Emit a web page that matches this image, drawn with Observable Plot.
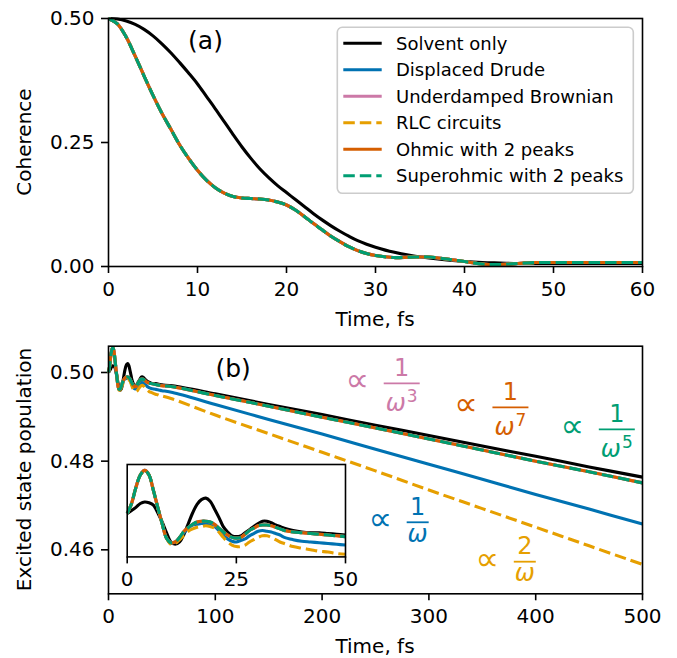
<!DOCTYPE html>
<html><head><meta charset="utf-8">
<script src="https://cdn.jsdelivr.net/npm/d3@7"></script>
<script src="https://cdn.jsdelivr.net/npm/@observablehq/plot@0.6"></script>
<style>
body{margin:0;background:white;}
#wrap{position:relative;width:677px;height:658px;font-family:"DejaVu Sans";background:white;}
#wrap svg{position:absolute;overflow:visible;}
</style>
</head><body><div id="wrap"></div>
<script>
// ---------- series ----------
const seriesNames  = ["Solvent only","Displaced Drude","Underdamped Brownian","RLC circuits","Ohmic with 2 peaks","Superohmic with 2 peaks"];
const seriesColors = ["#000000","#0072B2","#CC79A7","#E69F00","#D55E00","#009E73"];
const seriesDashed = [false,false,false,true,false,true];

// ---------- panel (a): coherence ----------
const tA = [0,1,2,3,4,5,6,7,8,9,10,11,12,13,14,15,16,17,18,19,20,21,22,23,24,25,26,27,28,29,30,32,34,36,38,40,42,44,46,48,50,52,56,60];
const cohSolvent = [0.500,0.499,0.495,0.488,0.478,0.465,0.449,0.431,0.411,0.390,0.368,0.343,0.318,0.292,0.266,0.241,0.218,0.197,0.179,0.163,0.149,0.135,0.121,0.107,0.094,0.082,0.071,0.061,0.052,0.045,0.039,0.029,0.022,0.017,0.013,0.010,0.008,0.007,0.006,0.006,0.006,0.006,0.006,0.006];
const cohBath    = [0.500,0.489,0.462,0.424,0.384,0.345,0.309,0.277,0.245,0.218,0.194,0.174,0.159,0.148,0.141,0.138,0.137,0.136,0.134,0.130,0.124,0.114,0.101,0.087,0.074,0.061,0.050,0.040,0.032,0.026,0.022,0.018,0.019,0.019,0.015,0.010,0.005,0.004,0.006,0.008,0.008,0.008,0.008,0.008];
const xTicksA = [0,10,20,30,40,50,60];
const yTicksA = [0,0.25,0.5];

// ---------- panel (b): excited state population ----------
const tB = [0,1,2,3,4,5,6,7,8,9,10,11,12,13,14,15,16,17,18,19,20,21,22,23,24,25,26,27,28,29,30,31,32,33,34,35,36,38,40,42,44,46,48,50,60,100,150,200,250,300,350,400,450,500];
const popSolvent = [0.5000,0.5004,0.5008,0.5013,0.5015,0.5014,0.5011,0.5001,0.4989,0.4975,0.4963,0.4960,0.4963,0.4973,0.4987,0.5001,0.5012,0.5018,0.5020,0.5016,0.5006,0.4995,0.4983,0.4976,0.4971,0.4970,0.4971,0.4975,0.4979,0.4983,0.4987,0.4990,0.4990,0.4988,0.4985,0.4983,0.4981,0.4978,0.4976,0.4975,0.4975,0.4974,0.4973,0.4972,0.4970,0.4952,0.4928,0.4905,0.4881,0.4858,0.4834,0.4811,0.4787,0.4764];
const popOthers  = [0.5000,0.5013,0.5034,0.5050,0.5056,0.5050,0.5030,0.5008,0.4987,0.4968,0.4962,0.4963,0.4969,0.4977,0.4982,0.4986,0.4989,0.4990,0.4990,0.4989,0.4986,0.4981,0.4976,0.4972,0.4969,0.4968,0.4969,0.4973,0.4978,0.4981,0.4984,0.4985,0.4985,0.4984,0.4982,0.4980,0.4978,0.4976,0.4975,0.4974,0.4973,0.4972,0.4971,0.4970,0.4968,0.4948,0.4924,0.4899,0.4875,0.4850,0.4825,0.4800,0.4776,0.4751];
const popDrude   = [0.5000,0.5013,0.5034,0.5050,0.5056,0.5050,0.5030,0.5008,0.4987,0.4968,0.4962,0.4963,0.4968,0.4975,0.4981,0.4985,0.4986,0.4987,0.4987,0.4986,0.4983,0.4978,0.4972,0.4967,0.4964,0.4963,0.4965,0.4967,0.4971,0.4974,0.4977,0.4978,0.4977,0.4976,0.4974,0.4972,0.4969,0.4966,0.4964,0.4963,0.4962,0.4961,0.4960,0.4959,0.4955,0.4928,0.4894,0.4861,0.4827,0.4793,0.4759,0.4725,0.4692,0.4658];
const popRLC     = [0.5000,0.5013,0.5034,0.5050,0.5056,0.5050,0.5030,0.5008,0.4987,0.4968,0.4960,0.4961,0.4966,0.4972,0.4977,0.4980,0.4982,0.4983,0.4984,0.4983,0.4981,0.4976,0.4969,0.4963,0.4959,0.4957,0.4957,0.4959,0.4963,0.4966,0.4969,0.4971,0.4971,0.4969,0.4966,0.4963,0.4961,0.4957,0.4955,0.4953,0.4951,0.4950,0.4948,0.4947,0.4940,0.4904,0.4862,0.4820,0.4778,0.4735,0.4693,0.4651,0.4609,0.4567];
const xTicksB = [0,100,200,300,400,500];
const yTicksB = [0.46,0.48,0.50];
const xTicksInset = [0,25,50];

// ---------- annotations ----------
const panelLabels = [{panel:"a", t:10.9, v:0.4556, text:"(a)"},{panel:"b", t:116.7, v:0.5007, text:"(b)"}];
const eqLabels = [
  {t:229.6, v:0.49745, color:"#CC79A7", num:"1", exp:"3"},
  {t:331.4, v:0.49204, color:"#D55E00", num:"1", exp:"7"},
  {t:431.0, v:0.48707, color:"#009E73", num:"1", exp:"5"},
  {t:251.1, v:0.46610, color:"#0072B2", num:"1", exp:""},
  {t:351.4, v:0.45721, color:"#E69F00", num:"2", exp:""}
];

// ---------- helpers ----------
const LW = 3.1, DASH = "11.5,5", FONT = "DejaVu Sans";
const baseStyle = {fontFamily: FONT, fontSize: "20px", color: "black", background: "transparent", overflow: "visible"};
function rows(ts, vs){ return ts.map((t,i)=>({t, v: vs[i]})); }
function lineMarks(dataArr, filter){
  return dataArr.map((vals, i) => Plot.line(rows(filter.t, vals).filter(filter.f), {
    x:"t", y:"v", stroke: seriesColors[i], strokeWidth: LW,
    strokeDasharray: seriesDashed[i] ? DASH : null, curve: "catmull-rom",
    strokeLinejoin: "round", strokeLinecap: "butt"
  }));
}
function addText(svg, x, y, txt, o={}){
  const t = d3.select(svg).append("text").attr("x", x).attr("y", y).text(txt)
    .attr("font-family", FONT).attr("font-size", o.size || 20)
    .attr("text-anchor", o.anchor || "middle").attr("dy", o.dy || "0.35em")
    .attr("fill", o.fill || "black");
  if (o.rotate) t.attr("transform", `rotate(${o.rotate},${x},${y})`);
  return t;
}

const wrap = document.getElementById("wrap");

// ---------- panel (a) ----------
const aSeries = [cohSolvent, cohBath, cohBath, cohBath, cohBath, cohBath];
const pa = Plot.plot({
  width: 677, height: 330,
  marginLeft: 108, marginRight: 35, marginTop: 18, marginBottom: 64,
  style: baseStyle,
  x: {domain: [0, 60], label: null},
  y: {domain: [0, 0.5], label: null},
  marks: [
    Plot.axisX({ticks: xTicksA, tickSize: 7, tickPadding: 8, strokeWidth: 1.6, label: null, tickFormat: d => String(d)}),
    Plot.axisY({ticks: yTicksA, tickSize: 7, tickPadding: 7, strokeWidth: 1.6, label: null, tickFormat: d3.format(".2f")}),
    ...lineMarks(aSeries, {t: tA, f: () => true}),
    Plot.frame({stroke: "black", strokeWidth: 1.6}),
    Plot.text(panelLabels.filter(d => d.panel === "a"), {x: "t", y: "v", text: "text", fontSize: 25, fill: "black"})
  ]
});
pa.style.left = "0px"; pa.style.top = "0px";
wrap.appendChild(pa);
addText(pa, 24, 142, "Coherence", {rotate: -90});
addText(pa, 375, 319, "Time, fs");

// legend
{
  const g = d3.select(pa).append("g");
  g.append("rect").attr("x", 337.3).attr("y", 27.3).attr("width", 296).attr("height", 166).attr("rx", 5)
    .attr("fill", "white").attr("fill-opacity", 0.8).attr("stroke", "#cccccc").attr("stroke-width", 1.6);
  seriesNames.forEach((name, i) => {
    const y = 43.3 + i * 26.5;
    g.append("line").attr("x1", 343.3).attr("x2", 381.7).attr("y1", y).attr("y2", y)
      .attr("stroke", seriesColors[i]).attr("stroke-width", LW)
      .attr("stroke-dasharray", seriesDashed[i] ? DASH : null);
    addText(g.node(), 396, y, name, {anchor: "start", size: 18});
  });
}

// ---------- panel (b) ----------
const bSeries = [popSolvent, popDrude, popOthers, popRLC, popOthers, popOthers];
const pb = Plot.plot({
  width: 677, height: 328,
  marginLeft: 108, marginRight: 35, marginTop: 15.7, marginBottom: 64.7,
  style: baseStyle,
  x: {domain: [0, 500], label: null},
  y: {domain: [0.45008, 0.50593], label: null},
  marks: [
    Plot.axisX({ticks: xTicksB, tickSize: 7, tickPadding: 8, strokeWidth: 1.6, label: null, tickFormat: d => String(d)}),
    Plot.axisY({ticks: yTicksB, tickSize: 7, tickPadding: 7, strokeWidth: 1.6, label: null, tickFormat: d3.format(".2f")}),
    ...lineMarks(bSeries, {t: tB, f: () => true}),
    Plot.frame({stroke: "black", strokeWidth: 1.6}),
    Plot.text(panelLabels.filter(d => d.panel === "b"), {x: "t", y: "v", text: "text", fontSize: 25, fill: "black"})
  ]
});
pb.style.left = "0px"; pb.style.top = "330px";
wrap.appendChild(pb);
addText(pb, 24, 139.5, "Excited state population", {rotate: -90});
addText(pb, 375, 316, "Time, fs");

// equation annotations using the plot's scales
{
  const xs = pb.scale("x"), ys = pb.scale("y");
  const g = d3.select(pb).append("g");
  eqLabels.forEach(e => {
    const x0 = xs.apply(e.t), yb = ys.apply(e.v);
    const bw = e.exp ? 36 : 22;
    const bx = x0 + 30.5, cx = bx + bw / 2;
    g.append("text").attr("x", x0 + 4).attr("y", yb + 8).text("\u221D")
      .attr("font-family", FONT).attr("font-size", 33).attr("fill", e.color);
    g.append("line").attr("x1", bx).attr("x2", bx + bw).attr("y1", yb).attr("y2", yb)
      .attr("stroke", e.color).attr("stroke-width", 1.8);
    g.append("text").attr("x", cx).attr("y", yb - 7.5).text(e.num)
      .attr("font-family", FONT).attr("font-size", 24).attr("fill", e.color).attr("text-anchor", "middle");
    const den = g.append("text").attr("x", cx).attr("y", yb + (e.exp ? 28 : 19.5))
      .attr("font-family", FONT).attr("font-size", 24).attr("fill", e.color).attr("text-anchor", "middle");
    den.append("tspan").attr("font-style", "italic").text("\u03C9");
    if (e.exp) den.append("tspan").attr("font-size", 17).attr("dy", -9.7).attr("dx", 1).text(e.exp);
  });
}

// ---------- inset ----------
const pi = Plot.plot({
  width: 270, height: 142.4,
  marginLeft: 26.7, marginRight: 25, marginTop: 10, marginBottom: 40,
  style: baseStyle,
  x: {domain: [0, 50], label: null},
  y: {domain: [0.49436, 0.50637], label: null, axis: null},
  marks: [
    Plot.frame({fill: "white", stroke: null}),
    Plot.axisX({ticks: xTicksInset, tickSize: 7, tickPadding: 8, strokeWidth: 1.6, label: null, tickFormat: d => String(d)}),
    ...lineMarks(bSeries, {t: tB, f: d => d.t <= 50}),
    Plot.frame({stroke: "black", strokeWidth: 1.6})
  ]
});
pi.style.left = "100px"; pi.style.top = "454.3px";
wrap.appendChild(pi);
</script></body></html>
